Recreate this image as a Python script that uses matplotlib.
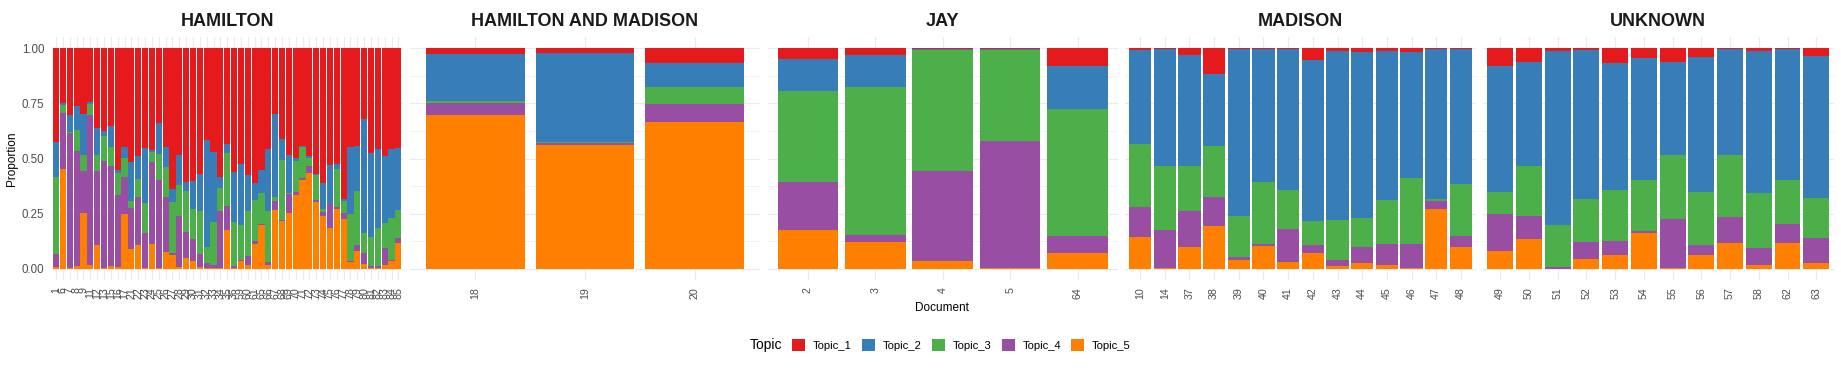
import numpy as np
import matplotlib
matplotlib.use("Agg")
import matplotlib.pyplot as plt
from matplotlib.patches import Patch

plt.rcParams['font.family'] = ['Liberation Sans', 'DejaVu Sans']

# Documents per author (one facet each)
authors = ["HAMILTON", "HAMILTON AND MADISON", "JAY", "MADISON", "UNKNOWN"]
hamilton_docs = [1, 6, 7, 8, 9, 11, 12, 13, 15, 16, 17, 21, 22, 23, 24, 25, 26, 27, 28, 29,
                 30, 31, 32, 33, 34, 35, 36, 59, 60, 61, 65, 66, 67, 68, 69, 70, 71, 72, 73,
                 74, 75, 76, 77, 78, 79, 80, 81, 82, 83, 84, 85]
ham_mad_docs = [18, 19, 20]
jay_docs = [2, 3, 4, 5, 64]
madison_docs = [10, 14, 37, 38, 39, 40, 41, 42, 43, 44, 45, 46, 47, 48]
unknown_docs = [49, 50, 51, 52, 53, 54, 55, 56, 57, 58, 62, 63]

# Topic proportions, documents in the order above (Hamilton, H&M, Jay, Madison, Unknown)
topic_1 = [.427, .249, .303, .261, .300, .243, .362, .377, .354, .551, .446, .517, .490, .451,
           .460, .339, .449, .637, .483, .608, .602, .569, .415, .469, .584, .433, .560, .523,
           .573, .611, .551, .459, .297, .410, .484, .496, .442, .487, .569, .611, .528, .526,
           .682, .449, .442, .321, .475, .455, .487, .459, .451,
           .027, .021, .066,
           .048, .033, .003, .003, .080,
           .008, .003, .032, .116, .003, .005, .005, .056, .015, .018, .014, .020, .003, .005,
           .083, .063, .012, .009, .069, .044, .063, .039, .005, .012, .006, .038]
topic_2 = [.158, .009, .079, .112, .184, .009, .124, .023, .094, .015, .052, .175, .101, .249,
           .012, .139, .088, .058, .137, .039, .125, .167, .485, .317, .049, .042, .226, .279,
           .163, .075, .105, .277, .377, .095, .172, .017, .007, .012, .007, .116, .176, .022,
           .009, .301, .204, .516, .379, .359, .305, .309, .284,
           .211, .403, .110,
           .145, .142, .006, .005, .196,
           .425, .532, .503, .326, .759, .600, .636, .727, .762, .751, .672, .567, .680, .609,
           .569, .472, .789, .673, .572, .552, .421, .611, .481, .643, .590, .642]
topic_3 = [.346, .036, .003, .095, .074, .053, .069, .110, .087, .098, .086, .032, .082, .137,
           .045, .119, .137, .233, .139, .186, .137, .195, .073, .197, .106, .241, .202, .156,
           .207, .186, .139, .232, .018, .272, .006, .140, .141, .033, .110, .017, .003, .171,
           .056, .215, .245, .091, .134, .172, .113, .193, .123,
           .009, .006, .076,
           .413, .673, .546, .413, .575,
           .286, .289, .203, .232, .185, .282, .176, .107, .182, .130, .201, .298, .009, .235,
           .101, .224, .191, .197, .232, .231, .290, .240, .277, .250, .200, .180]
topic_4 = [.061, .252, .610, .520, .189, .678, .336, .484, .450, .328, .166, .186, .217, .160,
           .368, .400, .249, .007, .233, .117, .101, .061, .024, .014, .258, .109, .007, .004,
           .040, .015, .004, .012, .043, .007, .085, .011, .006, .034, .011, .018, .109, .008,
           .025, .005, .029, .048, .009, .008, .075, .004, .026,
           .055, .007, .084,
           .216, .028, .409, .576, .078,
           .136, .173, .162, .130, .012, .009, .150, .038, .029, .075, .093, .112, .035, .051,
           .166, .104, .006, .076, .064, .010, .221, .047, .119, .077, .085, .114]
topic_5 = [.008, .454, .005, .012, .253, .017, .109, .006, .015, .008, .250, .090, .110, .003,
           .115, .003, .077, .065, .008, .050, .035, .008, .003, .003, .003, .175, .005, .038,
           .017, .113, .201, .020, .265, .216, .253, .336, .404, .434, .303, .238, .184, .273,
           .228, .030, .080, .024, .003, .006, .020, .035, .116,
           .698, .563, .664,
           .178, .124, .036, .003, .071,
           .145, .003, .100, .196, .041, .104, .033, .072, .012, .026, .020, .003, .273, .100,
           .081, .137, .002, .045, .063, .163, .005, .063, .118, .018, .119, .026]

topic_names = ["Topic_1", "Topic_2", "Topic_3", "Topic_4", "Topic_5"]
colors = ["#E41A1C", "#377EB8", "#4DAF4A", "#984EA3", "#FF7F00"]

panel_docs = [hamilton_docs, ham_mad_docs, jay_docs, madison_docs, unknown_docs]
topics = [np.array(topic_1), np.array(topic_2), np.array(topic_3),
          np.array(topic_4), np.array(topic_5)]

W, H = 1841, 368
fig = plt.figure(figsize=(W / 100, H / 100), dpi=100)

grid_col = "#EBEBEB"
panel_w = 350.5
panel_top, panel_bot = 37, 280

start = 0
for k, (name, docs) in enumerate(zip(authors, panel_docs)):
    left = 52 + k * 357.75
    ax = fig.add_axes([left / W, 1 - panel_bot / H, panel_w / W, (panel_bot - panel_top) / H])
    n = len(docs)
    x = np.arange(1, n + 1)
    bottom = np.zeros(n)
    # ggplot stacks the last topic at the bottom
    for t in range(4, -1, -1):
        vals = topics[t][start:start + n]
        ax.bar(x, vals, width=0.9, bottom=bottom, color=colors[t], linewidth=0, zorder=2)
        bottom += vals
    start += n

    ax.set_xlim(0.4, n + 0.6)
    ax.set_ylim(-0.05, 1.05)
    ax.set_xticks(x)
    ax.set_xticklabels([str(d) for d in docs], rotation=90, fontsize=7.7, color="#4D4D4D")
    ax.set_yticks([0, 0.25, 0.5, 0.75, 1.0])
    ax.set_yticks([0.125, 0.375, 0.625, 0.875], minor=True)
    if k == 0:
        ax.set_yticklabels(["0.00", "0.25", "0.50", "0.75", "1.00"], fontsize=8.3, color="#4D4D4D")
    else:
        ax.set_yticklabels([])
    ax.tick_params(axis="both", which="both", length=0)
    ax.tick_params(axis="x", pad=5)
    ax.tick_params(axis="y", pad=5.5)
    ax.grid(True, which="major", color=grid_col, linewidth=0.9, zorder=0)
    ax.grid(True, which="minor", axis="y", color=grid_col, linewidth=0.45, zorder=0)
    ax.set_axisbelow(True)
    for s in ax.spines.values():
        s.set_visible(False)

    fig.text((left + panel_w / 2) / W, 1 - 22 / H, name, ha="center", va="center",
             fontsize=13, fontweight="bold", color="#1A1A1A")

# Axis titles
fig.text(12 / W, 1 - 159 / H, "Proportion", rotation=90, ha="center", va="center", fontsize=8.5)
fig.text(942 / W, 1 - 308 / H, "Document", ha="center", va="center", fontsize=8.5)

# Legend at the bottom
fig.text(750 / W, 1 - 345 / H, "Topic", ha="left", va="center", fontsize=10)
handles = [Patch(facecolor=c, edgecolor="none") for c in colors]
fig.legend(handles, topic_names, loc="center left", bbox_to_anchor=(792 / W, 1 - 345 / H),
           ncol=5, frameon=False, fontsize=8.1, handlelength=1.16, handleheight=1.16,
           handletextpad=0.7, columnspacing=0.9, borderpad=0, borderaxespad=0)

plt.savefig("out.png", dpi=100)
